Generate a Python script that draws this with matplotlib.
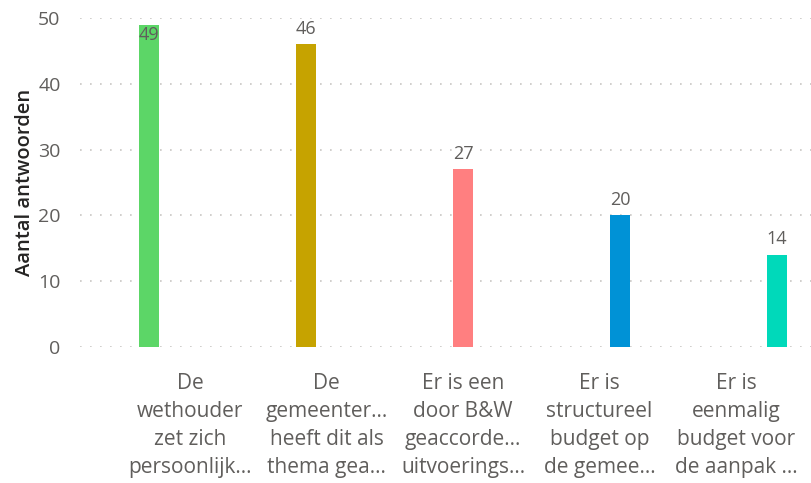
import matplotlib.pyplot as plt

categories = [
    "De\nwethouder\nzet zich\npersoonlijk...",
    "De\ngemeenter...\nheeft dit als\nthema gea...",
    "Er is een\ndoor B&W\ngeaccorde...\nuitvoerings...",
    "Er is\nstructureel\nbudget op\nde gemee...",
    "Er is\neenmalig\nbudget voor\nde aanpak ...",
]
values = [49, 46, 27, 20, 14]
colors = ["#5CD667", "#C6A300", "#FF7F80", "#0092D6", "#00D9BA"]
yticks = [0, 10, 20, 30, 40, 50]


def main():
    plt.rcParams['font.family'] = ['Open Sans', 'DejaVu Sans']
    fig = plt.figure(figsize=(8.12, 4.83), dpi=100)
    ax = fig.add_axes([80 / 812, (483 - 347) / 483, 732 / 812, 329 / 483])

    n = len(values)
    w = 0.15
    # clustered layout: each category has its own series slot
    for i, v in enumerate(values):
        x = i + (i - (n - 1) / 2) * w
        ax.bar(x, v, width=w, color=colors[i], zorder=3)
        if v > 47:
            ax.text(x, v - 0.2, str(v), ha='center', va='top', fontsize=13,
                    color='#605E5C', zorder=4)
        else:
            ax.text(x, v + 1.0, str(v), ha='center', va='bottom', fontsize=13,
                    color='#605E5C', zorder=4)

    ax.set_xlim(-0.806, 4.557)
    ax.set_ylim(0, 50)
    ax.set_yticks(yticks)
    ax.set_xticks(range(n))
    ax.set_xticklabels(categories, fontsize=15, color='#605E5C', linespacing=1.42)
    ax.tick_params(axis='x', length=0, pad=19)
    ax.tick_params(axis='y', length=0, pad=14, labelsize=14, labelcolor='#605E5C')
    ax.yaxis.grid(True, linestyle=(0, (1, 5)), color='#C8C6C4', linewidth=1.2, zorder=0)
    for s in ax.spines.values():
        s.set_visible(False)
    ax.set_ylabel("Aantal antwoorden", fontsize=14.5, color='#252423',
                  fontweight='semibold', labelpad=2)

    fig.savefig("out.png", dpi=100)


if __name__ == "__main__":
    main()
